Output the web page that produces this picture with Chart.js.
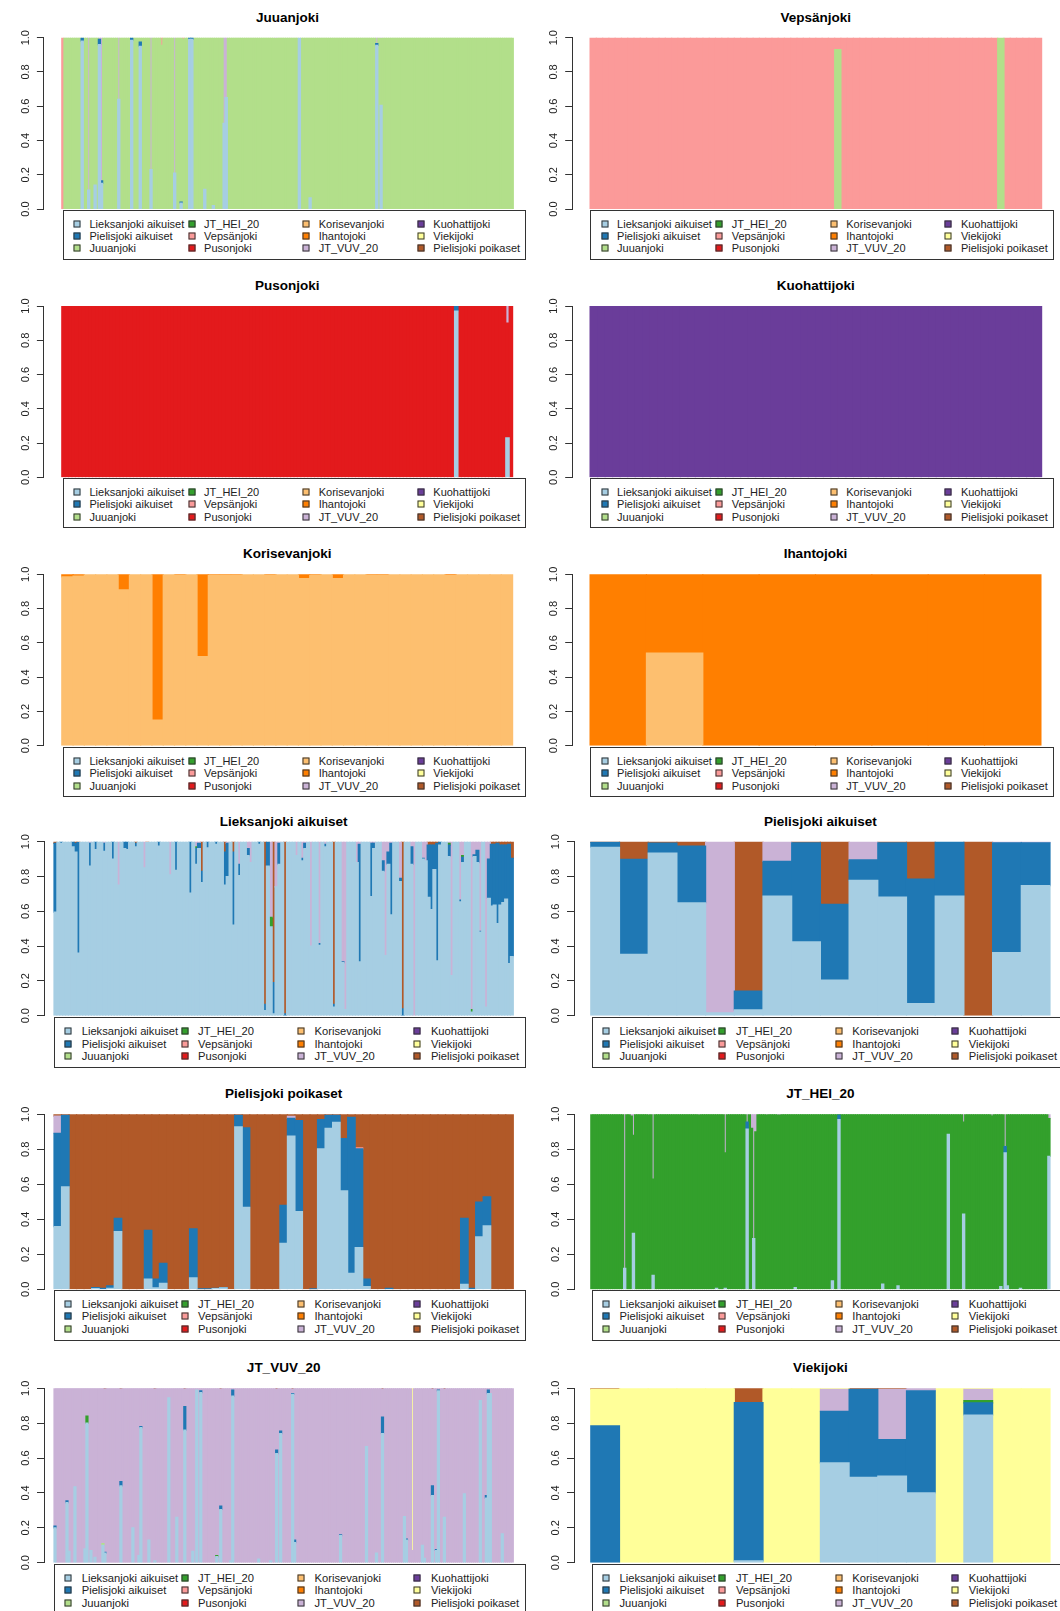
<!DOCTYPE html>
<html><head><meta charset="utf-8">
<script src="https://cdn.jsdelivr.net/npm/chart.js@4.4.1/dist/chart.umd.min.js"></script>
<style>
body{margin:0;background:#fff;}
#page{position:relative;width:1060px;height:1611px;overflow:hidden;background:#fff;font-family:"Liberation Sans",Arial,sans-serif;}
canvas{position:absolute;}
.title{position:absolute;font-weight:bold;font-size:13.5px;color:#000;white-space:nowrap;transform:translate(-50%,-50%);}
.legend{position:absolute;border:1px solid #333;box-sizing:border-box;background:#fff;}
.item{position:absolute;white-space:nowrap;color:#222;transform:translateY(-50%);}
.sw{position:absolute;width:7px;height:7px;border:1px solid #333;box-sizing:border-box;transform:translate(-50%,-50%);}
</style></head><body><div id="page"></div>
<script>
// ---------- clusters ----------
const clusterNames = ['Lieksanjoki aikuiset','Pielisjoki aikuiset','Juuanjoki','JT_HEI_20','Vepsänjoki','Pusonjoki','Korisevanjoki','Ihantojoki','JT_VUV_20','Kuohattijoki','Viekijoki','Pielisjoki poikaset'];
const clusterColors = ['#A6CEE3','#1F78B4','#B2DF8A','#33A02C','#FB9A99','#E31A1C','#FDBF6F','#FF7F00','#CAB2D6','#6A3D9A','#FFFF99','#B15928'];
const yTickLabels = ['0.0','0.2','0.4','0.6','0.8','1.0'];
const L=0,P=1,J=2,H=3,V=4,U=5,K=6,I=7,W=8,Q=9,X=10,Y=11;

// ---------- data: individuals per population; admixed individuals as
// [index, cluster, upper boundary, cluster, upper boundary, ...] (stacked bottom to top)
const juuanjokiCount = 210;
const juuanjokiHome = J;
const juuanjokiMix = [
 [0,V,1],[9,L,0.98,P,1],[12,L,0.11,W,1],[15,L,0.14,J,1],[17,L,0.96,P,0.99,W,1],[18,L,0.15,P,0.165,W,1],
 [26,L,0.64,W,1],[32,L,0.985,P,1],[36,L,0.95,P,0.975,J,1],[41,L,0.23,W,1],[46,J,0.955,V,1],[52,L,0.21,W,1],
 [55,L,0.035,P,0.04,J,1],[56,J,0.99,V,1],[59,L,0.99,P,1],[60,L,0.99,P,1],[66,L,0.115,J,1],[70,L,0.02,J,1],
 [75,L,0.5,W,1],[76,L,0.65,W,1],[99,J,0.995,W,1],[110,L,1],[115,L,0.065,J,1],[146,L,0.955,P,0.965,W,1],[148,L,0.605,J,0.995,W,1]
];

const vepsanjokiCount = 72;
const vepsanjokiHome = V;
const vepsanjokiMix = [[39,J,0.93,V,1],[65,J,1]];

const pusonjokiCount = 132;
const pusonjokiHome = U;
const pusonjokiMix = [[115,L,0.97,P,1],[130,L,0.23,U,0.9,W,1]];

const kuohattijokiCount = 60;
const kuohattijokiHome = Q;
const kuohattijokiMix = [];

const korisevanjokiCount = 40;
const korisevanjokiHome = K;
const korisevanjokiMix = [
 [0,K,0.985,I,1],[1,K,0.99,I,1],[5,K,0.91,I,1],[8,K,0.15,I,1],[10,K,0.995,I,1],[12,K,0.52,I,1],
 [13,K,0.996,I,1],[14,K,0.996,I,1],[15,K,0.996,I,1],[18,K,0.995,I,1],[21,K,0.975,I,1],[22,K,0.995,I,1],
 [24,K,0.975,I,1],[27,K,0.995,I,1],[28,K,0.995,I,1],[34,K,0.993,I,1]
];

const ihantojokiCount = 8;
const ihantojokiHome = I;
const ihantojokiMix = [[1,K,0.54,I,1]];

const lieksanjokiCount = 160;
const lieksanjokiHome = L;
const lieksanjokiMix = [
 [0,L,0.595,P,0.99,Y,1],[2,L,0.99,P,1],[6,L,0.97,P,1],[7,L,0.94,P,0.99,Y,1],[8,L,0.36,P,0.995,Y,1],
 [12,L,0.86,P,0.99,W,1],[14,L,0.955,P,1],[17,L,0.945,P,0.99,W,1],[20,L,0.9,P,1],[22,L,0.75,W,1],
 [24,L,0.96,P,1],[25,L,0.955,P,1],[28,L,0.97,P,0.99,Y,1],[31,L,0.85,W,1],[32,L,0.995,Y,1],[36,L,0.975,P,1],
 [40,L,0.81,W,1],[42,L,0.835,P,1],[47,L,0.705,P,1],[49,L,0.87,P,0.96,H,0.97,W,1],[50,L,0.96,P,0.99,W,1],
 [51,L,0.765,P,0.83,Y,1],[53,L,0.965,P,1],[56,L,0.985,P,1],[59,L,0.75,P,0.94,Y,1],[60,L,0.8,P,0.99,W,1],
 [62,L,0.52,P,0.94,Y,1],[64,L,0.805,P,0.87,W,1],[67,L,0.92,P,0.96,W,1],[68,L,0.88,W,1],[71,L,0.985,P,1],
 [73,L,0.03,P,0.065,Y,1],[74,L,0.86,P,1],[75,L,0.51,H,0.565,W,1],[76,L,0.01,P,0.19,Y,1],[77,L,0.74,W,1],
 [78,L,0.87,P,0.99,W,1],[80,P,0.01,Y,1],[84,L,0.92,W,1],[86,L,0.89,P,0.905,W,1],[87,L,0.96,P,0.99,W,1],
 [89,L,0.4,W,1],[92,L,0.405,P,0.415,W,1],[94,L,0.97,P,0.985,W,1],[97,L,0.05,P,0.065,Y,1],
 [100,L,0.305,P,0.31,W,1],[101,L,0.035,W,1],[105,L,0.88,W,1],[106,L,0.31,P,0.985,W,1],[110,L,0.685,P,0.99,W,1],
 [111,L,0.96,P,0.99,W,1],[114,L,0.83,P,0.89,W,1],[115,L,0.345,W,1],[116,L,0.87,P,0.94,W,1],[117,L,0.58,P,0.99,W,1],
 [120,L,0.77,P,0.79,W,1],[121,P,0.04,Y,1],[124,L,0.87,P,0.97,W,1],[125,W,1],[128,L,0.9,P,0.905,W,1],
 [129,L,0.89,W,1],[130,L,0.68,P,0.98,Y,1],[131,L,0.61,P,0.98,Y,1],[132,L,0.84,P,0.98,Y,1],[133,L,0.315,P,0.99,Y,1],
 [134,L,0.98,P,1],[137,L,0.915,P,0.98,H,0.99,W,1],[138,L,0.23,W,1],[141,L,0.655,P,0.665,W,1],
 [142,L,0.88,P,0.91,H,0.92,W,1],[145,L,0.02,H,0.035,W,1],[146,L,0.915,P,0.925,W,1],[147,L,0.88,P,0.95,W,1],
 [148,L,0.48,P,0.485,W,1],[150,L,0.05,W,1],[151,L,0.675,P,0.9,W,1],[152,L,0.63,P,0.985,Y,1],
 [153,L,0.635,P,0.985,Y,1],[154,L,0.53,P,0.99,Y,1],[155,L,0.635,P,0.98,Y,1],[156,L,0.65,P,0.98,Y,1],
 [157,L,0.67,P,0.98,Y,1],[158,L,0.3,P,0.985,Y,1],[159,L,0.34,P,0.905,Y,1]
];

const pielisAdultCount = 16;
const pielisAdultHome = P;
const pielisAdultMix = [
 [0,L,0.967,P,0.998,Y,1],[1,L,0.352,P,0.898,Y,1],[2,L,0.935,P,0.992,Y,1],[3,L,0.649,P,0.975,Y,1],
 [4,L,0.017,W,1],[5,L,0.033,P,0.142,Y,1],[6,L,0.688,P,0.887,W,1],[7,L,0.425,P,0.994,Y,1],
 [8,L,0.205,P,0.64,Y,1],[9,L,0.778,P,0.895,W,1],[10,L,0.682,P,0.994,Y,1],[11,L,0.069,P,0.785,Y,1],
 [12,L,0.688,P,1],[13,Y,1],[14,L,0.362,P,0.994,W,1],[15,L,0.747,P,0.994,W,1]
];

const pielisJuvCount = 61;
const pielisJuvHome = Y;
const pielisJuvMix = [
 [0,L,0.358,P,0.891,W,0.99,Y,1],[1,L,0.585,P,0.994,Y,1],[5,L,0.004,P,0.01,Y,1],[6,P,0.005,Y,1],[7,L,0.005,P,0.02,Y,1],
 [8,L,0.33,P,0.406,Y,1],[12,L,0.059,P,0.337,Y,1],[13,L,0.008,P,0.059,Y,1],[14,L,0.034,P,0.149,Y,1],
 [18,L,0.065,P,0.345,Y,1],[19,P,0.003,Y,1],[20,P,0.003,Y,1],[21,L,0.004,P,0.006,Y,1],[22,L,0.008,P,0.01,Y,1],
 [24,L,0.928,P,0.994,Y,1],[25,L,0.469,P,0.922,Y,1],[30,L,0.263,P,0.48,Y,1],[31,L,0.876,P,0.977,W,0.989,Y,1],
 [32,L,0.444,P,0.964,Y,1],[34,P,0.003,Y,1],[35,L,0.802,P,0.97,Y,1],[36,L,0.92,P,0.994,Y,1],[37,L,0.954,P,0.994,Y,1],
 [38,L,0.562,P,0.861,Y,1],[39,L,0.091,P,0.983,Y,1],[40,L,0.238,P,0.802,V,0.808,Y,1],[41,L,0.015,P,0.059,Y,1],
 [44,P,0.005,Y,1],[54,L,0.029,P,0.406,Y,1],[55,P,0.005,Y,1],[56,L,0.30,P,0.499,Y,1],[57,L,0.362,P,0.528,Y,1]
];

const jtHeiCount = 210;
const jtHeiHome = H;
const jtHeiMix = [
 [15,L,0.12,W,1],[18,H,0.99,W,1],[19,L,0.32,H,0.88,W,1],[26,H,0.995,W,1],[28,L,0.08,H,0.63,W,1],
 [49,H,0.995,W,1],[57,L,0.005,H,1],[61,L,0.005,H,0.78,W,1],[71,L,0.915,P,0.955,W,1],[73,H,0.92,W,1],
 [74,L,0.29,W,1],[75,H,0.9,W,1],[80,H,0.995,W,1],[85,H,0.995,W,1],[86,H,0.995,W,1],[93,L,0.01,H,1],
 [110,L,0.048,H,1],[113,L,0.97,P,0.995,H,1],[133,L,0.03,H,1],[140,L,0.02,H,1],[163,L,0.885,H,1],
 [170,L,0.43,H,0.955,W,1],[183,H,0.99,W,1],[187,L,0.015,H,1],[189,L,0.78,P,0.815,W,1],[190,L,0.02,H,1],
 [196,L,0.005,H,1],[209,L,0.76,H,0.975,W,1]
];

const jtVuvCount = 230;
const jtVuvHome = W;
const jtVuvMix = [
 [0,L,0.2,P,0.21,W,1],[6,L,0.345,P,0.355,W,1],[7,L,0.065,W,1],[10,L,0.435,W,1],[15,L,0.08,W,1],
 [16,L,0.8,H,0.84,W,1],[18,L,0.07,W,1],[20,L,0.03,W,1],[24,L,0.1,J,0.11,W,1],[25,L,0.055,P,0.06,W,0.995,Y,1],
 [33,L,0.44,P,0.465,W,0.995,Y,1],[39,L,0.2,W,1],[42,L,0.04,W,1],[43,L,0.775,P,0.78,W,1],[47,L,0.13,W,1],
 [50,L,0.01,W,0.995,Y,1],[57,L,0.945,W,1],[61,L,0.26,W,1],[65,L,0.76,P,0.895,W,0.995,Y,1],[69,L,0.065,W,1],
 [71,L,0.99,W,1],[73,L,0.975,P,0.985,W,1],[81,L,0.035,H,0.04,W,1],[83,L,0.305,P,0.325,W,0.995,Y,1],
 [88,L,0.01,W,1],[89,L,0.955,P,0.99,W,1],[102,L,0.02,W,1],[108,L,0.01,W,1],[111,L,0.625,P,0.645,W,0.995,Y,1],
 [113,L,0.74,P,0.755,W,1],[119,L,0.965,P,0.97,W,0.995,Y,1],[120,L,0.115,P,0.13,W,1],[143,L,0.155,P,0.16,W,1],
 [156,L,0.665,W,1],[161,L,0.055,W,1],[164,L,0.74,P,0.835,W,0.995,Y,1],[175,L,0.265,W,1],[176,L,0.13,P,0.135,W,1],
 [179,W,0.07,X,1],[184,L,0.1,W,1],[185,L,0.025,W,1],[189,L,0.385,P,0.44,W,0.995,Y,1],[191,L,0.07,P,0.075,W,1],
 [192,L,0.985,P,0.99,W,1],[195,L,0.26,W,0.995,Y,1],[205,L,0.395,W,1],[213,L,0.93,W,1],[216,L,0.37,P,0.385,W,1],
 [217,L,0.97,P,0.99,W,1],[218,L,0.97,W,1],[224,L,0.165,W,1]
];

const viekijokiCount = 16;
const viekijokiHome = X;
const viekijokiMix = [
 [0,P,0.784,X,0.995,Y,1],[5,L,0.011,P,0.918,Y,1],[8,L,0.572,P,0.868,W,0.994,X,1],[9,L,0.489,P,0.994,Y,1],
 [10,L,0.497,P,0.706,W,0.994,Y,1],[11,L,0.40,P,0.985,W,1],[13,L,0.847,P,0.916,H,0.929,W,0.994,X,1]
];

const panelTitles = ['Juuanjoki','Vepsänjoki','Pusonjoki','Kuohattijoki','Korisevanjoki','Ihantojoki','Lieksanjoki aikuiset','Pielisjoki aikuiset','Pielisjoki poikaset','JT_HEI_20','JT_VUV_20','Viekijoki'];
const panelData = [
 [juuanjokiCount,juuanjokiHome,juuanjokiMix],[vepsanjokiCount,vepsanjokiHome,vepsanjokiMix],
 [pusonjokiCount,pusonjokiHome,pusonjokiMix],[kuohattijokiCount,kuohattijokiHome,kuohattijokiMix],
 [korisevanjokiCount,korisevanjokiHome,korisevanjokiMix],[ihantojokiCount,ihantojokiHome,ihantojokiMix],
 [lieksanjokiCount,lieksanjokiHome,lieksanjokiMix],[pielisAdultCount,pielisAdultHome,pielisAdultMix],
 [pielisJuvCount,pielisJuvHome,pielisJuvMix],[jtHeiCount,jtHeiHome,jtHeiMix],
 [jtVuvCount,jtVuvHome,jtVuvMix],[viekijokiCount,viekijokiHome,viekijokiMix]
];

// ---------- layout (page pixels) ----------
const smallLeg = {w:463.5,h:50,s0:13.5,t0:26,step:114.6,r0:12.7,rs:12.3,fs:11};
const bigLeg = {w:471.7,h:51,s0:13.2,t0:26.7,step:116.4,r0:12.7,rs:12.6,fs:11.2};
const layout = [
 {col:0,  axisX:43.9, barL:61.8, barR:513.3, y1:37.7,  y0:209,    legX:62.5,  legY:210,    leg:smallLeg},
 {col:530,axisX:572.2,barL:590.1,barR:1041.6,y1:37.7,  y0:209,    legX:590.1, legY:210,    leg:smallLeg},
 {col:0,  axisX:43.9, barL:61.8, barR:512.6, y1:306,   y0:477.3,  legX:62.5,  legY:478.3,  leg:smallLeg},
 {col:530,axisX:572.2,barL:590.1,barR:1041.6,y1:306,   y0:477.3,  legX:590.1, legY:478.3,  leg:smallLeg},
 {col:0,  axisX:43.9, barL:61.8, barR:512.6, y1:574.3, y0:745.7,  legX:62.5,  legY:747.3,  leg:smallLeg},
 {col:530,axisX:572.2,barL:590.1,barR:1040.9,y1:574.3, y0:745.7,  legX:590.1, legY:747.3,  leg:smallLeg},
 {col:0,  axisX:44,   barL:54,   barR:513.3, y1:841.7, y0:1015.7, legX:54,    legY:1017.3, leg:bigLeg},
 {col:530,axisX:574,  barL:590.8,barR:1050,  y1:841.7, y0:1015.7, legX:591.8, legY:1017.3, leg:bigLeg},
 {col:0,  axisX:44,   barL:54,   barR:513.3, y1:1114.3,y0:1289.3, legX:54,    legY:1290,   leg:bigLeg},
 {col:530,axisX:574,  barL:590.8,barR:1050,  y1:1114.3,y0:1289.3, legX:591.8, legY:1290,   leg:bigLeg},
 {col:0,  axisX:44,   barL:54,   barR:513.3, y1:1388.3,y0:1562.7, legX:54,    legY:1564,   leg:bigLeg},
 {col:530,axisX:574,  barL:590.8,barR:1050,  y1:1388.3,y0:1562.7, legX:591.8, legY:1564,   leg:bigLeg}
];

function buildSeries(count, home, mix){
  const series = clusterNames.map(() => new Array(count).fill(null));
  for (let i = 0; i < count; i++) series[home][i] = 1;
  for (const m of mix){
    const i = m[0];
    series[home][i] = null;
    let prev = 0;
    for (let k = 1; k < m.length; k += 2){
      const c = m[k], b = m[k+1], v = b - prev;
      if (v > 0) series[c][i] = (series[c][i] || 0) + v;
      prev = b;
    }
  }
  return series;
}

const page = document.getElementById('page');
const FONT = '"Liberation Sans", Arial, sans-serif';

panelTitles.forEach((title, p) => {
  const [count, home, mix] = panelData[p];
  const g = layout[p];
  const series = buildSeries(count, home, mix);

  const t = document.createElement('div');
  t.className = 'title';
  t.textContent = title;
  t.style.left = ((g.barL + g.barR) / 2) + 'px';
  t.style.top = (g.y1 - 21) + 'px';
  page.appendChild(t);

  const padT = 14, padB = 14;
  const cTop = Math.floor(g.y1) - padT;
  const pt = g.y1 - cTop;
  const cH = Math.ceil(g.y0 + padB) - cTop;
  const pb = cH - (g.y0 - cTop);
  const plotRight = g.barR + (g.barL - g.axisX);
  const cW = Math.ceil(plotRight) - g.col;
  const pr = cW - (plotRight - g.col);
  const u = (g.barR - g.barL) / count;
  const xmin = -(g.barL - g.axisX) / u;
  const xmax = count + (plotRight - g.barR) / u;

  const cv = document.createElement('canvas');
  cv.width = cW; cv.height = cH;
  cv.style.left = g.col + 'px'; cv.style.top = cTop + 'px';
  cv.style.width = cW + 'px'; cv.style.height = cH + 'px';
  page.appendChild(cv);

  const datasets = clusterNames.map((name, c) => ({
    label: name,
    data: series[c].map((v, i) => ({x: i + 0.5, y: v})),
    backgroundColor: clusterColors[c],
    borderWidth: 0,
    inflateAmount: 0.6,
    barPercentage: 1,
    categoryPercentage: 1
  }));

  new Chart(cv, {
    type: 'bar',
    data: {datasets},
    options: {
      responsive: false, animation: false, devicePixelRatio: 1, events: [],
      layout: {padding: {top: pt, bottom: pb, left: 0, right: pr}},
      plugins: {legend: {display: false}, tooltip: {enabled: false}, title: {display: false}},
      scales: {
        x: {type: 'linear', stacked: true, display: false, min: xmin, max: xmax, offset: false,
            afterBuildTicks: s => { s.ticks = []; }},
        y: {stacked: true, min: 0, max: 1,
            afterFit: s => { s.width = g.axisX - g.col; },
            afterBuildTicks: s => { s.ticks = yTickLabels.map(l => ({value: parseFloat(l)})); },
            ticks: {callback: (v, i) => yTickLabels[i], minRotation: 90, maxRotation: 90, crossAlign: 'center',
                    padding: 3.5, autoSkip: false, color: '#222', font: {family: FONT, size: 11}},
            grid: {drawOnChartArea: false, tickLength: 7, color: '#333', tickColor: '#333', lineWidth: 1},
            border: {display: true, color: '#333', width: 1}}
      }
    }
  });

  const lg = g.leg;
  const box = document.createElement('div');
  box.className = 'legend';
  box.style.left = g.legX + 'px'; box.style.top = g.legY + 'px';
  box.style.width = lg.w + 'px'; box.style.height = lg.h + 'px';
  page.appendChild(box);
  clusterNames.forEach((name, c) => {
    const col = Math.floor(c / 3), row = c % 3;
    const sw = document.createElement('div');
    sw.className = 'sw';
    sw.style.background = clusterColors[c];
    sw.style.left = (lg.s0 + col * lg.step) + 'px';
    sw.style.top = (lg.r0 + row * lg.rs) + 'px';
    box.appendChild(sw);
    const it = document.createElement('div');
    it.className = 'item';
    it.textContent = name;
    it.style.fontSize = lg.fs + 'px';
    it.style.lineHeight = '12px';
    it.style.left = (lg.t0 + col * lg.step) + 'px';
    it.style.top = (lg.r0 + row * lg.rs) + 'px';
    box.appendChild(it);
  });
});
</script></body></html>
